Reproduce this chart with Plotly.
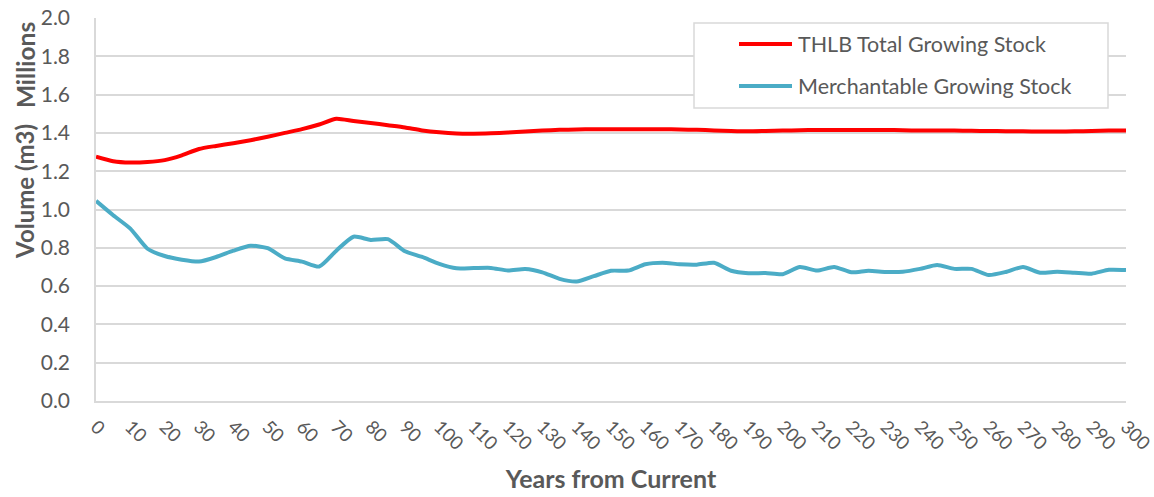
import plotly.graph_objects as go

# Projection years (every 5 years over a 300-year horizon)
years = list(range(0, 305, 5))

# THLB total growing stock, millions of m3
thlb_total = [
    1.276, 1.252, 1.245, 1.248, 1.258, 1.283, 1.316, 1.332, 1.346, 1.362,
    1.380, 1.400, 1.420, 1.444, 1.474, 1.462, 1.452, 1.440, 1.428, 1.413,
    1.403, 1.397, 1.396, 1.398, 1.402, 1.407, 1.412, 1.416, 1.418, 1.419,
    1.419, 1.419, 1.419, 1.419, 1.418, 1.416, 1.413, 1.410, 1.408, 1.410,
    1.412, 1.414, 1.415, 1.415, 1.415, 1.415, 1.415, 1.414, 1.412, 1.412,
    1.412, 1.411, 1.410, 1.409, 1.408, 1.407, 1.407, 1.408, 1.410, 1.412,
    1.412,
]

# Merchantable growing stock, millions of m3
merchantable = [
    1.045, 0.970, 0.900, 0.795, 0.757, 0.738, 0.728, 0.752, 0.785, 0.811,
    0.798, 0.745, 0.728, 0.702, 0.785, 0.858, 0.841, 0.845, 0.782, 0.752,
    0.716, 0.693, 0.694, 0.695, 0.681, 0.689, 0.672, 0.638, 0.624, 0.652,
    0.680, 0.681, 0.714, 0.722, 0.714, 0.712, 0.722, 0.680, 0.667, 0.668,
    0.662, 0.700, 0.681, 0.700, 0.672, 0.680, 0.674, 0.675, 0.690, 0.710,
    0.690, 0.690, 0.658, 0.674, 0.700, 0.670, 0.675, 0.670, 0.665, 0.685,
    0.684,
]

series_names = ["THLB Total Growing Stock", "Merchantable Growing Stock"]
series_colors = ["#FF0000", "#4BACC6"]

x_ticks = list(range(0, 310, 10))
y_ticks = [round(0.2 * i, 1) for i in range(11)]

FONT = "Lato"
TEXT_GREY = "#595959"
GRID = "#D9D9D9"

fig = go.Figure()
for name, vals, col in zip(series_names, [thlb_total, merchantable], series_colors):
    fig.add_trace(go.Scatter(
        x=years, y=vals, name=name, mode="lines",
        line=dict(color=col, width=4, shape="spline", smoothing=0.6),
        showlegend=False,
    ))

fig.update_layout(
    width=1154, height=497,
    margin=dict(l=96, r=28, t=18, b=96, autoexpand=False),
    paper_bgcolor="white", plot_bgcolor="white",
    font=dict(family=FONT, color=TEXT_GREY, size=20),
    xaxis=dict(
        range=[0, 300], tickmode="array", tickvals=x_ticks,
        ticktext=[str(v) for v in x_ticks], tickangle=45,
        showgrid=False, zeroline=False, automargin=False,
        showline=True, linecolor=GRID, linewidth=1.5,
        ticklabelstandoff=6, ticklabeloverflow="allow",
        tickfont=dict(size=18.5, color=TEXT_GREY),
        title=dict(text="<b>Years from Current</b>",
                   font=dict(size=25, color=TEXT_GREY), standoff=17),
    ),
    yaxis=dict(
        range=[0, 2.0], tickmode="array", tickvals=y_ticks,
        ticktext=[f"{v:.1f}" for v in y_ticks], automargin=False,
        showgrid=True, gridcolor=GRID, gridwidth=1.5,
        zeroline=False, showline=True, linecolor=GRID, linewidth=1.5,
        ticklabelstandoff=20, ticklabeloverflow="allow",
        tickfont=dict(size=21, color=TEXT_GREY),
    ),
)

# Vertical axis title with display-unit label
fig.add_annotation(text="<b>Volume (m3)</b>", textangle=-90,
                   xref="paper", yref="paper", x=0, y=0.546, xshift=-71,
                   xanchor="center", yanchor="middle",
                   showarrow=False, font=dict(size=24, color=TEXT_GREY))
fig.add_annotation(text="<b>Millions</b>", textangle=-90,
                   xref="paper", yref="paper", x=0, y=0.877, xshift=-71,
                   xanchor="center", yanchor="middle",
                   showarrow=False, font=dict(size=24.5, color=TEXT_GREY))

# Legend box drawn in pixel offsets converted to paper coordinates
plot_w, plot_h = 1154 - 96 - 28, 497 - 18 - 96
def px(xp):
    return (xp - 96) / plot_w
def py(yp):
    return (497 - 96 - yp) / plot_h

fig.add_shape(type="rect", xref="paper", yref="paper",
              x0=px(694), x1=px(1108), y0=py(108), y1=py(23),
              line=dict(color=GRID, width=1.5), fillcolor="white", layer="above")
for i, (name, col) in enumerate(zip(series_names, series_colors)):
    yc = 44 + i * 42
    fig.add_shape(type="line", xref="paper", yref="paper",
                  x0=px(739), x1=px(792), y0=py(yc), y1=py(yc),
                  line=dict(color=col, width=4), layer="above")
    fig.add_annotation(text=name, xref="paper", yref="paper",
                       x=px(796), y=py(yc), xanchor="left", yanchor="middle",
                       showarrow=False, font=dict(size=21.5, color=TEXT_GREY))

fig.write_html("out.html")
